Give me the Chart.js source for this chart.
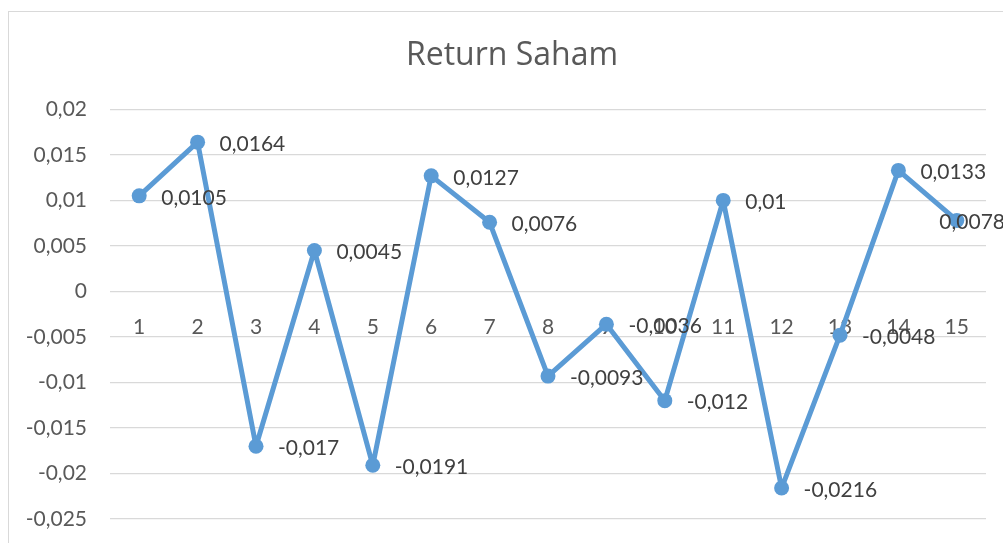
<!DOCTYPE html>
<html>
<head>
<meta charset="utf-8">
<script src="https://cdn.jsdelivr.net/npm/chart.js@4.4.1/dist/chart.umd.min.js"></script>
<style>
  html, body { margin: 0; padding: 0; background: #fff; overflow: hidden; }
  #box { position: absolute; left: 8px; top: 11px; width: 1008px; height: 545px; border: 1px solid #d9d9d9; box-sizing: border-box; }
  #wrap { position: absolute; left: 0; top: 0; width: 1006px; height: 543px; }
</style>
</head>
<body>
<div id="box"><div id="wrap"><canvas id="c"></canvas></div></div>
<script>
const chartTitle = "Return Saham";
const categories = ["1","2","3","4","5","6","7","8","9","10","11","12","13","14","15"];
const returnSaham = [0.0105, 0.0164, -0.017, 0.0045, -0.0191, 0.0127, 0.0076, -0.0093, -0.0036, -0.012, 0.01, -0.0216, -0.0048, 0.0133, 0.0078];
const yMin = -0.025, yMax = 0.02, yStep = 0.005;

const FONT = "Lato, 'Open Sans', sans-serif";
const TITLE_FONT = "'Open Sans', Lato, sans-serif";
const fmt = v => {
  const r = Math.round(v * 10000) / 10000;
  return String(r).replace('.', ',');
};

const dataLabelPlugin = {
  id: 'dataLabels',
  afterDatasetsDraw(chart) {
    const ctx = chart.ctx;
    const meta = chart.getDatasetMeta(0);
    ctx.save();
    ctx.font = "21px " + FONT;
    ctx.fillStyle = "#404040";
    ctx.textBaseline = "middle";
    ctx.textAlign = "left";
    meta.data.forEach((pt, i) => {
      const txt = fmt(chart.data.datasets[0].data[i]);
      const w = ctx.measureText(txt).width;
      let x = pt.x + 22;
      const limit = chart.width - 10;
      if (x + w > limit) x = limit - w;
      ctx.fillText(txt, x, pt.y + 2);
    });
    ctx.restore();
  }
};

new Chart(document.getElementById('c'), {
  type: 'line',
  data: {
    labels: categories,
    datasets: [{
      data: returnSaham,
      borderColor: '#5B9BD5',
      backgroundColor: '#5B9BD5',
      borderWidth: 5,
      borderJoinStyle: 'round',
      borderCapStyle: 'round',
      pointRadius: 7.5,
      pointHoverRadius: 7.5,
      pointBackgroundColor: '#5B9BD5',
      pointBorderWidth: 0,
      tension: 0,
      clip: false
    }]
  },
  options: {
    responsive: true,
    maintainAspectRatio: false,
    animation: false,
    events: [],
    layout: { padding: { left: 0, right: 0, top: 0, bottom: 36 } },
    plugins: {
      legend: { display: false },
      tooltip: { enabled: false },
      title: {
        display: true,
        text: chartTitle,
        color: '#595959',
        font: { family: TITLE_FONT, size: 32, weight: 'normal', lineHeight: 1.2 },
        padding: { top: 25, bottom: 34 }
      }
    },
    scales: {
      x: {
        type: 'category',
        position: { y: 0 },
        offset: true,
        grid: { display: false, drawTicks: false },
        border: { display: false },
        ticks: { color: '#595959', font: { family: FONT, size: 21 }, padding: 23, maxRotation: 0, autoSkip: false },
        afterFit(s) { s.height = 0; }
      },
      y: {
        min: yMin, max: yMax,
        grid: { color: '#d9d9d9', lineWidth: 1.3, drawTicks: false },
        border: { display: false },
        ticks: { stepSize: yStep, color: '#595959', font: { family: FONT, size: 21 }, padding: 23, callback: v => fmt(v) },
        afterFit(s) { s.width = 101; }
      },
      yRight: {
        position: 'right',
        min: yMin, max: yMax,
        grid: { display: false, drawTicks: false },
        border: { display: false },
        ticks: { display: false },
        afterFit(s) { s.width = 29; }
      }
    }
  },
  plugins: [dataLabelPlugin]
});
</script>
</body>
</html>
